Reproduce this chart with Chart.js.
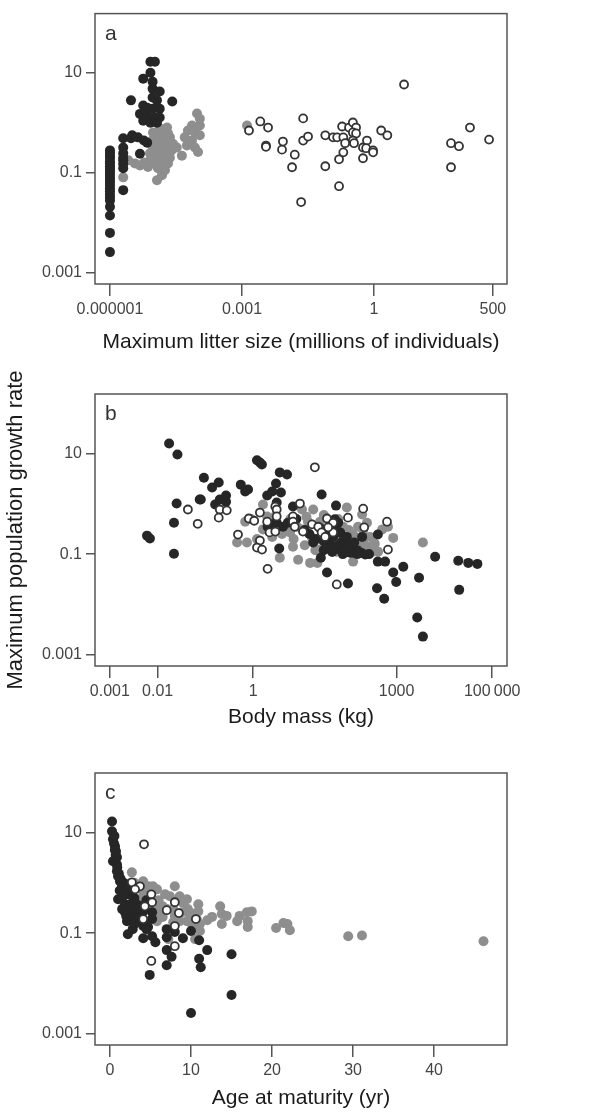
<!DOCTYPE html>
<html>
<head>
<meta charset="utf-8">
<title>Maximum population growth rate</title>
<script src="https://cdn.jsdelivr.net/npm/chart.js@4.4.1/dist/chart.umd.min.js"></script>
<style>
  body { margin: 0; background: #ffffff; }
  canvas { position: absolute; left: 0; }
</style>
</head>
<body>
<canvas id="chartA" width="596" height="370" style="top:0px"></canvas>
<canvas id="chartB" width="596" height="400" style="top:340px"></canvas>
<canvas id="chartC" width="596" height="372" style="top:740px"></canvas>
<script>
// Tick values and labels
const yTicks = [0.001, 0.1, 10];
const yTickLabels = ["0.001", "0.1", "10"];
const litterTicks = [1e-6, 1e-3, 1, 500];
const litterTickLabels = ["0.000001", "0.001", "1", "500"];
const massTicks = [0.001, 0.01, 1, 1000, 100000];
const massTickLabels = ["0.001", "0.01", "1", "1000", "100\u2009000"];
const ageTicks = [0, 10, 20, 30, 40];
const ageTickLabels = ["0", "10", "20", "30", "40"];

// Panel a: maximum litter size (millions) vs growth rate
const litterMammal = [
  [1e-6,0.28],[1e-6,0.25],[1e-6,0.22],[1e-6,0.2],[1e-6,0.17],[1e-6,0.155],[1e-6,0.135],[1e-6,0.12],
  [1e-6,0.11],[1e-6,0.1],[1e-6,0.09],[1e-6,0.08],[1e-6,0.072],[1e-6,0.064],[1e-6,0.057],[1e-6,0.049],
  [1e-6,0.043],[1e-6,0.037],[1e-6,0.032],[1e-6,0.028],[1e-6,0.021],[1e-6,0.014],[1e-6,0.0063],[1e-6,0.0026],
  [2e-6,0.49],[2e-6,0.32],[2e-6,0.245],[2e-6,0.2],[2e-6,0.178],[2e-6,0.15],[2e-6,0.123],[2e-6,0.045],
  [3e-6,0.49],[3e-6,2.8],[3.2e-6,0.56],[4.3e-6,0.51],[4.8e-6,1.5],[4.8e-6,0.24],[5.9e-6,0.44],
  [5.7e-6,7.6],[5.7e-6,2.2],[5.7e-6,1.1],[7e-6,2.0],[7e-6,1.4],[7e-6,0.4],
  [8.3e-6,16.5],[8.3e-6,10],[8.3e-6,1.0],[9.3e-6,6.6],[9.3e-6,4.8],[9.3e-6,3.2],[9.3e-6,1.9],
  [1.05e-5,16.5],[1.05e-5,1.27],[1.17e-5,2.8],[1.17e-5,1.0],[1.35e-5,4.2],[1.35e-5,1.9],[1.35e-5,1.27],
  [2.6e-5,2.65]
];
const litterBird = [
  [2e-6,0.081],[2.6e-6,0.177],[3.7e-6,0.154],[4.8e-6,0.14],[7e-6,0.154],[6e-6,0.16],
  [9.5e-6,0.64],[1.37e-5,0.77],[1.98e-5,0.8],[1.6e-5,0.61],[1.17e-5,0.51],[9e-6,0.44],[1.23e-5,0.4],
  [1.78e-5,0.44],[2.3e-5,0.51],[2.7e-5,0.38],[9.5e-6,0.32],[1.37e-5,0.31],[1.98e-5,0.31],[8.1e-6,0.245],
  [1.17e-5,0.22],[1.6e-5,0.245],[2.3e-5,0.2],[1.05e-5,0.177],[1.52e-5,0.154],[2.08e-5,0.154],
  [1.23e-5,0.123],[1.78e-5,0.112],[1.17e-5,0.071],[1.52e-5,0.089],[7.3e-6,0.13],[4.3e-5,0.22],[3.3e-5,0.32],
  [1.05e-5,0.36],[1.3e-5,0.55],[1.45e-5,0.4],[1.9e-5,0.23],[2.1e-5,0.6],[1.25e-5,0.27],[8.5e-6,0.19],
  [1.4e-5,0.2],[1.7e-5,0.17],[2.5e-5,0.28],[1.1e-5,0.15],
  [9.5e-5,1.53],[1.1e-4,1.2],[7.3e-5,0.88],[1.1e-4,0.88],[5.9e-5,0.7],[8.5e-5,0.64],[5e-5,0.51],
  [1.1e-4,0.56],[7.3e-5,0.44],[5.6e-5,0.35],[8.5e-5,0.32],[1e-4,0.26],
  [1.3e-3,0.88]
];
const litterFish = [
  [1.44e-3,0.7],[2.6e-3,1.06],[3.9e-3,0.8],[3.5e-3,0.35],[3.5e-3,0.33],[8.5e-3,0.42],[8.1e-3,0.29],
  [0.0158,0.23],[0.0137,0.129],[0.0245,1.22],[0.0245,0.44],[0.0316,0.53],[0.022,0.026],[0.078,0.56],
  [0.078,0.135],[0.117,0.51],[0.145,0.51],[0.2,0.51],[0.188,0.84],[0.22,0.39],[0.2,0.256],[0.16,0.186],
  [0.16,0.054],[0.27,0.8],[0.33,1.01],[0.39,0.8],[0.33,0.64],[0.39,0.61],[0.33,0.44],[0.35,0.39],
  [0.56,0.32],[0.69,0.44],[0.66,0.31],[0.56,0.195],[0.95,0.28],[0.95,0.256],[1.45,0.7],[2.0,0.56],
  [4.8,5.8],[56,0.39],[85,0.34],[56,0.129],[151,0.8],[410,0.46]
];

// Panel b: body mass (kg) vs growth rate
const massMammal = [
  [0.006,0.233],[0.0069,0.204],[0.0174,15.8],[0.026,9.5],[0.025,1.01],[0.022,0.42],[0.022,0.102],
  [0.093,3.3],[0.076,1.22],[0.08,1.22],[0.138,2.1],[0.19,2.65],[0.16,0.97],[0.2,1.22],[0.27,1.46],
  [0.27,1.1],[0.55,2.4],[0.68,1.75],[0.78,1.92],[1.2,7.3],[1.38,6.6],[1.52,6.0],[1.96,1.46],[2.5,1.75],
  [3.0,2.53],[3.6,4.2],[5.1,3.8],[3.8,1.67],[3.1,1.06],[2.6,0.39],[3.1,0.42],[2.0,0.35],[3.5,0.129],
  [6.8,0.88],[5.3,0.42],[4.2,0.35],[27,1.53],[26,0.085],[35,0.043],[54,0.92],[51,0.49],[60,0.42],
  [41,0.27],[47,0.22],[66,0.27],[41,0.14],[47,0.135],[66,0.123],[91,0.22],[96,0.14],[96,0.026],
  [107,0.107],[123,0.107],[190,0.22],[180,0.107],[220,0.098],[265,0.1],[405,0.071],[575,0.071],
  [405,0.245],[390,0.021],[550,0.013],[850,0.043],[980,0.028],[1380,0.056],[2950,0.034],[2700,0.0055],
  [3550,0.0023],[6400,0.089],[19500,0.074],[31600,0.067],[49000,0.064],[20400,0.0195],
  [8,0.5],[12,0.3],[15,0.25],[20,0.2],[30,0.18],[40,0.16],[70,0.17],[80,0.2],[55,0.3],[25,0.33],
  [18,0.17],[110,0.15],[150,0.12],[45,0.11],[75,0.1],[130,0.17],
  [30,0.12],[60,0.15],[85,0.11],[150,0.1],[35,0.15]
];
const massBird = [
  [0.46,0.17],[0.74,0.17],[0.68,0.44],[1.6,0.97],[1.95,0.56],[2.5,0.22],[3.6,0.085],[5.1,0.35],
  [6.8,0.14],[8.7,0.077],[10.5,0.77],[14,0.44],[18,0.77],[17,0.21],[15.5,0.067],[22,0.067],[25,0.44],
  [29,0.27],[22,0.195],[41,0.35],[91,0.84],[76,0.35],[123,0.245],[123,0.071],[156,0.35],[190,0.61],
  [200,0.17],[280,0.22],[250,0.14],[320,0.112],[410,0.112],[500,0.31],[660,0.35],[850,0.21],[3550,0.17],
  [5.9,0.27],[8.3,0.35],[1.6,0.31],[47,0.156],[56,0.112],[240,0.42],[25,0.123],[11,0.31],
  [1.2,0.2],[2.2,0.5],[3,0.6],[4,0.25],[6,0.5],[7,0.2],[12,0.15],[30,0.6],[35,0.2],[60,0.5],
  [100,0.3],[140,0.19],[170,0.12],[350,0.16],[0.9,0.5],[13,0.55],
  [20,0.12],[40,0.4],[100,0.15],[200,0.3],[65,0.18]
];
const massFish = [
  [0.043,0.77],[0.069,0.4],[0.2,0.77],[0.19,0.53],[0.28,0.74],[0.48,0.245],[0.81,0.51],[1.05,0.46],
  [1.38,0.67],[1.38,0.186],[1.2,0.135],[1.53,0.123],[2.0,0.051],[1.96,0.44],[2.2,0.27],[2.9,0.28],
  [2.9,0.88],[3.1,0.77],[3.1,0.56],[6.8,0.56],[6.8,0.44],[7.4,0.35],[9.5,1.01],[11,0.28],[17,0.39],
  [19.5,5.3],[23,0.35],[27,0.27],[35,0.51],[32,0.22],[47,0.27],[56,0.025],[96,0.53],[200,0.8],
  [210,0.34],[630,0.44],[660,0.123],[47,0.42],[37,0.34]
];

// Panel c: age at maturity (yr) vs growth rate
const ageMammal = [
  [0.25,16.5],[0.25,10.5],[0.37,7.3],[0.62,5.3],[0.74,4.2],[0.37,2.67],[0.86,3.2],[0.86,2.3],[0.86,1.7],
  [1.0,1.35],[1.23,1.07],[1.6,1.02],[2.1,0.93],[2.5,0.85],[1.0,0.47],[1.6,0.54],[2.2,0.59],[2.8,0.54],
  [1.85,0.375],[2.5,0.375],[3.3,0.375],[3.95,0.34],[1.85,0.26],[2.7,0.27],[3.3,0.26],[4.1,0.27],
  [5.2,0.26],[2.1,0.173],[2.8,0.19],[4.1,0.173],[5.2,0.19],[2.2,0.095],[2.8,0.12],[4.1,0.138],
  [4.7,0.132],[4.1,0.079],[5.2,0.087],[5.6,0.066],[4.9,0.0148],[7.0,0.12],[7.0,0.083],[7.0,0.046],
  [7.6,0.034],[7.0,0.023],[8.0,0.105],[9.0,0.079],[10.0,0.11],[10.0,0.0026],[11.0,0.072],[12.0,0.046],
  [11.0,0.031],[11.2,0.021],[15.0,0.038],[15.0,0.0059],
  [0.5,6],[0.6,4.5],[0.7,3.6],[0.9,2.0],[1.1,1.5],[1.3,1.2],[1.5,0.8],[1.2,0.7],[3,0.5],[3.5,0.2],
  [4.5,0.45],[1.5,0.3],[2,0.22],[3,0.15],[4.5,0.12],[1.4,1.0],[0.55,8.5]
];
const ageBird = [
  [2.7,1.61],[3.5,0.85],[4.1,1.07],[4.7,0.85],[5.3,0.85],[5.8,0.74],[6.8,0.59],[8.0,0.85],[7.4,0.54],
  [8.6,0.54],[9.5,0.47],[5.8,0.41],[6.5,0.34],[5.9,0.27],[5.8,0.173],[7.8,0.3],[8.9,0.26],[9.6,0.3],
  [10.9,0.375],[10.9,0.27],[9.9,0.21],[10.7,0.19],[11.1,0.152],[7.8,0.165],[8.6,0.173],[9.5,0.173],
  [10.2,0.138],[10.5,0.076],[6.5,0.21],[12.6,0.21],[13.6,0.34],[13.8,0.24],[14.4,0.22],[13.8,0.152],
  [15.7,0.173],[16.0,0.22],[16.9,0.26],[17.5,0.27],[17.0,0.173],[17.0,0.132],[20.5,0.126],[21.4,0.159],
  [21.9,0.152],[22.2,0.114],[29.4,0.087],[31.1,0.09],[46.1,0.069],[4.1,0.65],[4.7,0.54],[3.7,0.47],
  [4.9,0.34],[5.6,0.26],[11.1,0.11],[7.2,0.076],
  [3,1.0],[2.5,0.7],[6,0.45],[7,0.3],[9,0.4],[10,0.25],[12,0.18],[8,0.22]
];
const ageFish = [
  [4.2,5.8],[3.7,0.85],[2.7,1.02],[3.1,0.74],[5.1,0.59],[5.2,0.41],[4.3,0.34],[7.0,0.285],[8.0,0.41],
  [8.5,0.25],[10.6,0.19],[8.0,0.138],[8.0,0.055],[5.1,0.028],[4.1,0.19]
];

const FONT = "'Liberation Sans', Arial, Helvetica, sans-serif";
Chart.defaults.font.family = FONT;

const yMin = Math.pow(10, -3.21);
const yMax = Math.pow(10, 2.18);

function toPoints(list) {
  return list.map((p) => ({ x: p[0], y: p[1] }));
}

// frame around the plot area and the panel letter
const framePlugin = {
  id: "panelFrame",
  beforeDatasetsDraw(chart, args, opts) {
    const { ctx, chartArea: a } = chart;
    ctx.save();
    ctx.strokeStyle = "#555555";
    ctx.lineWidth = 1.5;
    ctx.strokeRect(a.left, a.top, a.right - a.left, a.bottom - a.top);
    ctx.fillStyle = "#333333";
    ctx.font = "21px " + FONT;
    ctx.textBaseline = "alphabetic";
    ctx.fillText(opts.letter, a.left + 10, a.top + 26);
    ctx.restore();
  },
};

function fixedTicks(values) {
  return (scale) => {
    scale.ticks = values.map((v) => ({ value: v }));
  };
}

function makePanel(canvasId, cfg) {
  const ctx = document.getElementById(canvasId).getContext("2d");
  return new Chart(ctx, {
    type: "scatter",
    data: {
      datasets: [
        {
          label: "Fish",
          data: toPoints(cfg.open),
          backgroundColor: "#ffffff",
          borderColor: "#333333",
          borderWidth: 1.8,
          pointRadius: 4,
        },
        {
          label: "Mammals",
          data: toPoints(cfg.black),
          backgroundColor: "#262626",
          borderColor: "#262626",
          borderWidth: 0,
          pointRadius: 5,
        },
        {
          label: "Birds",
          data: toPoints(cfg.gray),
          backgroundColor: "#8e8e8e",
          borderColor: "#8e8e8e",
          borderWidth: 0,
          pointRadius: 5,
        },
      ],
    },
    options: {
      responsive: false,
      animation: false,
      events: [],
      layout: { padding: { top: cfg.padTop, right: 89, left: 0, bottom: 0 } },
      plugins: {
        legend: { display: false },
        tooltip: { enabled: false },
        panelFrame: { letter: cfg.letter },
      },
      scales: {
        x: {
          type: cfg.xType,
          min: cfg.xMin,
          max: cfg.xMax,
          afterFit: (s) => { s.height = cfg.xHeight; },
          afterBuildTicks: fixedTicks(cfg.xTicks),
          ticks: {
            callback: (v, i) => cfg.xTickLabels[i],
            color: "#444444",
            font: { size: 16 },
            padding: 4,
            autoSkip: false,
            maxRotation: 0,
          },
          grid: { drawOnChartArea: false, tickLength: 12, color: "#555555", lineWidth: 1.5 },
          border: { display: false },
          title: {
            display: true,
            text: cfg.xTitle,
            color: "#1a1a1a",
            font: { size: 21 },
            padding: { top: 0, bottom: cfg.titlePad },
          },
        },
        y: {
          type: "logarithmic",
          min: yMin,
          max: yMax,
          afterFit: (s) => { s.width = 95; },
          afterBuildTicks: fixedTicks(yTicks),
          ticks: {
            callback: (v, i) => yTickLabels[i],
            color: "#444444",
            font: { size: 16 },
            padding: 4,
            autoSkip: false,
          },
          grid: { drawOnChartArea: false, tickLength: 9, color: "#555555", lineWidth: 1.5 },
          border: { display: false },
          title: {
            display: !!cfg.yTitle,
            text: cfg.yTitle || "",
            color: "#1a1a1a",
            font: { size: 22 },
            padding: { top: 3, bottom: 0 },
          },
        },
      },
    },
    plugins: [framePlugin],
  });
}

makePanel("chartA", {
  letter: "a",
  black: litterMammal,
  gray: litterBird,
  open: litterFish,
  xType: "logarithmic",
  xMin: Math.pow(10, -6.34),
  xMax: Math.pow(10, 3.02),
  xTicks: litterTicks,
  xTickLabels: litterTickLabels,
  xTitle: "Maximum litter size (millions of individuals)",
  padTop: 13,
  xHeight: 86,
  titlePad: 15,
});

makePanel("chartB", {
  letter: "b",
  black: massMammal,
  gray: massBird,
  open: massFish,
  xType: "logarithmic",
  xMin: Math.pow(10, -3.31),
  xMax: Math.pow(10, 5.31),
  xTicks: massTicks,
  xTickLabels: massTickLabels,
  xTitle: "Body mass (kg)",
  yTitle: "Maximum population growth rate",
  padTop: 54,
  xHeight: 74,
  titlePad: 10,
});

makePanel("chartC", {
  letter: "c",
  black: ageMammal,
  gray: ageBird,
  open: ageFish,
  xType: "linear",
  xMin: -1.85,
  xMax: 49,
  xTicks: ageTicks,
  xTickLabels: ageTickLabels,
  xTitle: "Age at maturity (yr)",
  padTop: 33,
  xHeight: 67,
  titlePad: 1,
});
</script>
</body>
</html>
